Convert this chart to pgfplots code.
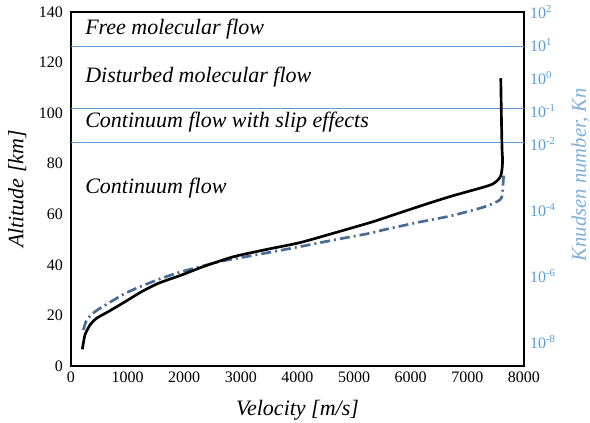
\documentclass[border=0pt]{standalone}
\usepackage{fontspec}
\setmainfont{Liberation Serif}
\usepackage{pgfplots}
\pgfplotsset{compat=1.18}
\definecolor{kblue}{RGB}{91,155,213}
\definecolor{klab}{RGB}{125,175,220}
\definecolor{dashc}{RGB}{72,108,148}
\begin{document}
\begin{tikzpicture}
\useasboundingbox (0,0) rectangle (442.5pt,316.5pt);
\begin{axis}[
  at={(53.25pt,42pt)}, anchor=south west,
  width=339.75pt, height=265.5pt, scale only axis,
  xmin=0, xmax=8000, ymin=0, ymax=140,
  xtick={0,1000,2000,3000,4000,5000,6000,7000,8000},
  xticklabels={0,1000,2000,3000,4000,5000,6000,7000,8000},
  ytick={0,20,40,60,80,100,120,140},
  yticklabels={0,20,40,60,80,100,120,140},
  major tick length=0pt,
  axis line style={line width=1.5pt, black},
  tick label style={font=\fontsize{12}{14}\selectfont, black},
  yticklabel style={xshift=-2.5pt},
  xticklabel style={yshift=-1pt},
  label style={font=\fontsize{16.5}{19}\selectfont\itshape},
  xlabel={Velocity [m/s]},
  ylabel={Altitude [km]},
  xlabel style={at={(axis description cs:0.5,-0.124)}, anchor=center},
  ylabel style={at={(axis description cs:-0.119,0.5)}, anchor=center},
]
\addplot[kblue, line width=0.8pt] coordinates {(0,126.3) (8000,126.3)};
\addplot[kblue, line width=0.8pt] coordinates {(0,101.9) (8000,101.9)};
\addplot[kblue, line width=0.8pt] coordinates {(0,88.3) (8000,88.3)};
\addplot[dashc, line width=2pt, line cap=butt, dash pattern=on 7.5pt off 3pt on 1.5pt off 3pt, smooth, tension=0.4] coordinates {
(218,14.2) (277,18.2) (424,21.5) (659,24.8) (954,28.7) (1248,31.6) (1601,34.7) (1955,37.3) (2631,41.3) (3161,43.5) (4044,47.2) (4632,49.8) (5280,52.5) (5515,53.8) (6105,56.7) (6693,59.3) (7281,62.8) (7576,65.7) (7620,69) (7640,75.5)};
\addplot[black, line width=2pt, smooth, tension=0.4] coordinates {
(200,6.6) (247,12.3) (335,16.2) (453,18.9) (659,21.5) (954,25.4) (1248,29.4) (1542,32.7) (1955,36.0) (2337,39.3) (2866,43.2) (3455,46.1) (4044,48.8) (4632,52.5) (5280,56.7) (5515,58.4) (6105,62.8) (6693,67.0) (7281,70.7) (7450,72.0) (7540,73.6) (7590,75.2) (7612,77.8) (7622,81.5) (7612,86) (7600,100) (7590,113.8)};
\node[anchor=west, inner sep=0pt, font=\fontsize{16.5}{19}\selectfont\itshape] at (axis cs:247,133.3) {Free molecular flow};
\node[anchor=west, inner sep=0pt, font=\fontsize{16.5}{19}\selectfont\itshape] at (axis cs:247,114.3) {Disturbed molecular flow};
\node[anchor=west, inner sep=0pt, font=\fontsize{16.5}{19}\selectfont\itshape] at (axis cs:247,96.5) {Continuum flow with slip effects};
\node[anchor=west, inner sep=0pt, font=\fontsize{16.5}{19}\selectfont\itshape] at (axis cs:247,70.4) {Continuum flow};
\end{axis}
\begin{axis}[
  at={(53.25pt,42pt)}, anchor=south west,
  width=339.75pt, height=265.5pt, scale only axis,
  xmin=0, xmax=8000,
  ymode=log, ymin=1.875e-9, ymax=100,
  axis x line=none, axis y line*=right,
  axis line style={draw=none},
  major tick length=0pt, minor tick num=0,
  ytick={1e2,1e1,1,1e-1,1e-2,1e-4,1e-6,1e-8},
  yticklabels={10\textsuperscript{2},10\textsuperscript{1},10\textsuperscript{0},10\textsuperscript{-1},10\textsuperscript{-2},10\textsuperscript{-4},10\textsuperscript{-6},10\textsuperscript{-8}},
  yticklabel style={font=\fontsize{12}{14}\selectfont, color=kblue, xshift=1pt},
  ylabel={Knudsen number, Kn},
  ylabel style={font=\fontsize{15.5}{18}\selectfont\itshape, color=klab, at={(axis description cs:1.124,0.54)}, anchor=center, rotate=0},
]
\end{axis}
\end{tikzpicture}
\end{document}
